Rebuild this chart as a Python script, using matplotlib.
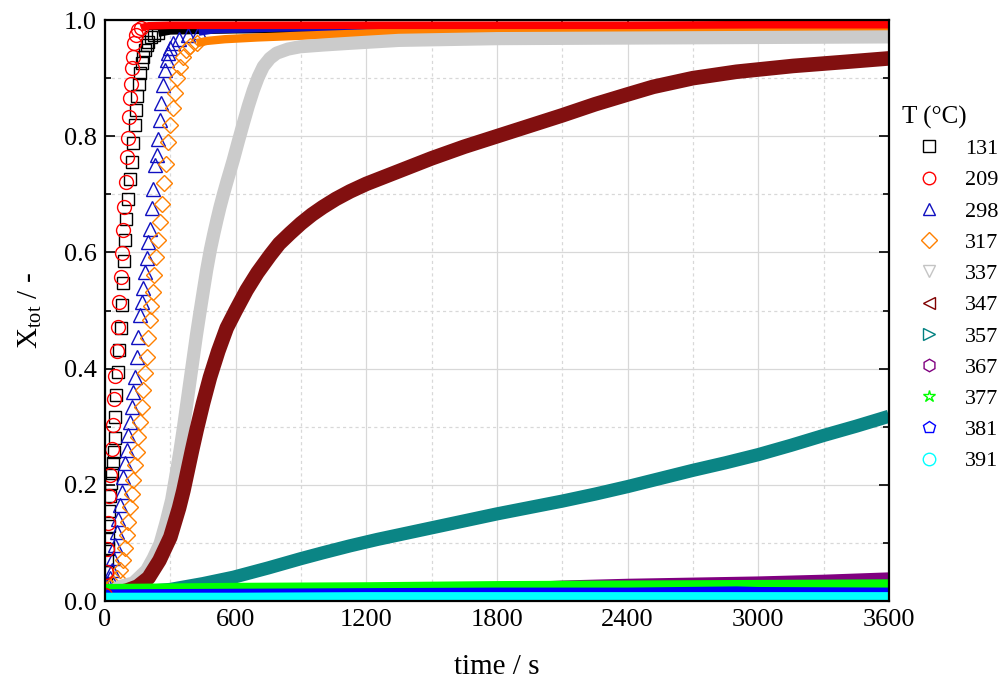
import numpy as np
import matplotlib.pyplot as plt
from matplotlib.lines import Line2D
from matplotlib.ticker import MultipleLocator, FormatStrFormatter

plt.rcParams["font.family"] = ["Liberation Serif", "DejaVu Serif"]
plt.rcParams["mathtext.fontset"] = "custom"
plt.rcParams["mathtext.rm"] = "Liberation Serif"
plt.rcParams["mathtext.it"] = "Liberation Serif:italic"

# temperatures (legend labels)
temps = ["131", "209", "298", "317", "337", "347", "357", "367", "377", "381", "391"]

# conversion curves (time in s, X_tot)
t131 = [0, 4, 7, 10, 13, 15, 18, 20, 23, 26, 32, 38, 41, 45, 48, 52, 58, 64, 72, 77,
        82, 88, 93, 98, 105, 113, 122, 130, 137, 142, 148, 155, 161, 170, 176, 184,
        191, 199, 210, 225, 245, 270, 300, 600, 1200, 1800, 2400, 3000, 3600]
x131 = [0.01, 0.03, 0.05, 0.07, 0.09, 0.107, 0.13, 0.155, 0.18, 0.203, 0.22, 0.237,
        0.257, 0.281, 0.317, 0.355, 0.395, 0.432, 0.47, 0.509, 0.547, 0.586, 0.621,
        0.657, 0.692, 0.726, 0.756, 0.788, 0.819, 0.845, 0.869, 0.89, 0.909, 0.926,
        0.937, 0.948, 0.957, 0.963, 0.97, 0.975, 0.978, 0.98, 0.982, 0.984, 0.985,
        0.985, 0.986, 0.986, 0.986]

t209 = [0, 5, 10, 15, 20, 25, 31, 36, 41, 46, 54, 60, 66, 72, 77, 81, 87, 96, 102,
        107, 112, 116, 119, 122, 129, 134, 140, 150, 165, 180, 200, 300, 600, 1200,
        1800, 2400, 3000, 3600]
x209 = [0.01, 0.05, 0.09, 0.134, 0.18, 0.217, 0.262, 0.303, 0.348, 0.388, 0.431,
        0.472, 0.515, 0.558, 0.599, 0.639, 0.679, 0.722, 0.765, 0.797, 0.833, 0.866,
        0.89, 0.917, 0.937, 0.96, 0.975, 0.982, 0.986, 0.988, 0.99, 0.991, 0.991,
        0.991, 0.991, 0.991, 0.992, 0.992]

t298 = [0, 8, 15, 23, 31, 38, 46, 54, 61, 69, 77, 84, 92, 100, 107, 115, 122, 130,
        138, 146, 153, 161, 168, 176, 184, 191, 199, 207, 214, 222, 230, 237, 245,
        251, 257, 265, 275, 283, 291, 298, 314, 340, 380, 430, 500, 800, 1200, 1800,
        2400, 3000, 3600]
x298 = [0.02, 0.022, 0.028, 0.04, 0.053, 0.074, 0.096, 0.119, 0.142, 0.165, 0.188,
        0.214, 0.237, 0.26, 0.286, 0.309, 0.334, 0.36, 0.386, 0.42, 0.455, 0.492,
        0.515, 0.538, 0.567, 0.59, 0.618, 0.641, 0.676, 0.71, 0.75, 0.768, 0.796,
        0.828, 0.858, 0.888, 0.914, 0.931, 0.943, 0.952, 0.96, 0.968, 0.975, 0.98,
        0.984, 0.987, 0.988, 0.988, 0.988, 0.988, 0.988]

t317 = [0, 23, 38, 54, 69, 84, 92, 100, 107, 115, 122, 130, 138, 145, 153, 161, 168,
        176, 184, 191, 199, 206, 212, 219, 227, 235, 243, 252, 260, 269, 278, 288,
        299, 310, 321, 332, 344, 357, 372, 390, 421, 467, 550, 700, 900, 1200, 1500,
        2000, 2500, 3000, 3600]
x317 = [0.02, 0.025, 0.03, 0.039, 0.053, 0.071, 0.091, 0.114, 0.136, 0.162, 0.185,
        0.208, 0.234, 0.257, 0.283, 0.309, 0.334, 0.363, 0.392, 0.42, 0.452, 0.484,
        0.507, 0.532, 0.561, 0.593, 0.621, 0.653, 0.684, 0.719, 0.753, 0.79, 0.82,
        0.848, 0.874, 0.9, 0.92, 0.937, 0.948, 0.955, 0.96, 0.964, 0.967, 0.97,
        0.973, 0.977, 0.979, 0.981, 0.982, 0.982, 0.983]

t337 = [0, 69, 130, 191, 222, 253, 280, 306, 325, 344, 360, 375, 390, 405, 420, 436,
        452, 467, 484, 500, 514, 528, 545, 560, 575, 589, 612, 635, 658, 681, 704,
        727, 757, 788, 840, 895, 1000, 1125, 1350, 1800, 2400, 3000, 3600]
x337 = [0.01, 0.025, 0.031, 0.053, 0.074, 0.099, 0.135, 0.174, 0.215, 0.258, 0.298,
        0.338, 0.378, 0.418, 0.458, 0.497, 0.535, 0.57, 0.605, 0.633, 0.656, 0.678,
        0.702, 0.722, 0.741, 0.759, 0.791, 0.822, 0.852, 0.879, 0.902, 0.92, 0.934,
        0.943, 0.95, 0.954, 0.957, 0.96, 0.965, 0.968, 0.969, 0.97, 0.971]

t347 = [0, 60, 100, 150, 200, 250, 300, 320, 340, 360, 380, 400, 421, 450, 482, 520,
        559, 600, 650, 700, 758, 800, 850, 900, 950, 1000, 1060, 1125, 1200, 1350,
        1500, 1650, 1800, 1950, 2100, 2250, 2400, 2517, 2700, 2900, 3160, 3400, 3600]
x347 = [0.01, 0.015, 0.018, 0.025, 0.04, 0.07, 0.11, 0.135, 0.16, 0.19, 0.225, 0.26,
        0.295, 0.34, 0.385, 0.43, 0.47, 0.5, 0.535, 0.565, 0.595, 0.615, 0.633, 0.65,
        0.665, 0.678, 0.692, 0.705, 0.718, 0.74, 0.762, 0.782, 0.8, 0.818, 0.836,
        0.855, 0.872, 0.885, 0.9, 0.911, 0.921, 0.928, 0.934]

t357 = [0, 150, 300, 450, 590, 750, 900, 1000, 1125, 1250, 1350, 1500, 1650, 1800,
        1950, 2100, 2250, 2400, 2550, 2700, 2850, 3000, 3150, 3300, 3450, 3600]
x357 = [0.012, 0.015, 0.02, 0.03, 0.041, 0.057, 0.073, 0.083, 0.095, 0.106, 0.114,
        0.126, 0.138, 0.15, 0.161, 0.172, 0.184, 0.197, 0.211, 0.225, 0.238, 0.252,
        0.268, 0.285, 0.301, 0.318]

t367 = [0, 900, 1500, 1800, 2100, 2400, 2700, 3000, 3300, 3600]
x367 = [0.012, 0.015, 0.019, 0.022, 0.027, 0.03, 0.032, 0.034, 0.037, 0.041]

t377 = [0, 600, 1200, 1800, 2400, 3000, 3600]
x377 = [0.021, 0.023, 0.024, 0.026, 0.027, 0.028, 0.029]

t381 = [0, 600, 1200, 1800, 2400, 2900, 3000, 3600]
x381 = [0.013, 0.014, 0.015, 0.016, 0.016, 0.018, 0.017, 0.016]

t391 = [0, 600, 1200, 1800, 2400, 3000, 3600]
x391 = [0.006, 0.006, 0.007, 0.007, 0.007, 0.007, 0.007]

times = [t131, t209, t298, t317, t337, t347, t357, t367, t377, t381, t391]
values = [x131, x209, x298, x317, x337, x347, x357, x367, x377, x381, x391]

markers = ["s", "o", "^", "D", "v", "<", ">", "h", "*", "p", "o"]
colors = ["#000000", "#ff0000", "#1010c0", "#ff8000", "#c4c4c4", "#800000",
          "#008080", "#800080", "#00ff00", "#0000ff", "#00ffff"]
band_colors = ["#000000", "#ff0000", "#1010c0", "#ff8000", "#cbcbcb", "#821010",
               "#0b8585", "#800080", "#00ff00", "#0000ff", "#00ffff"]
sizes = [8.5, 10, 10.5, 8, 10.5, 10, 10, 9, 10, 9, 9]
band_w = [6, 5.5, 6, 6, 9.5, 10.5, 9.5, 7, 7, 6, 7]
zorders = [2.0, 2.9, 2.1, 2.2, 2.3, 2.4, 2.5, 2.6, 2.7, 2.8, 3.0]
# time where the dense markers merge into a continuous band
band_start = [245, 165, 430, 421, 0, 0, 0, 0, 0, 0, 0]

fig = plt.figure(figsize=(10.03, 6.91), dpi=100)
ax = fig.add_axes([0.1047, 0.1302, 0.7816, 0.8408])

for t, x, mk, c, bc, ms, bw, z, b in zip(times, values, markers, colors, band_colors,
                                         sizes, band_w, zorders, band_start):
    t = np.asarray(t, dtype=float)
    x = np.asarray(x, dtype=float)
    band = t >= b
    ax.plot(t[band], x[band], color=bc, lw=bw, solid_capstyle="butt",
            solid_joinstyle="round", zorder=z)
    if b > 0:
        pts = t <= b
        ax.plot(t[pts], x[pts], ls="none", marker=mk, ms=ms, mfc="none", mec=c,
                mew=1.0, zorder=z)

ax.set_xlim(0, 3600)
ax.set_ylim(0, 1.0)
ax.xaxis.set_major_locator(MultipleLocator(600))
ax.xaxis.set_minor_locator(MultipleLocator(300))
ax.yaxis.set_major_locator(MultipleLocator(0.2))
ax.yaxis.set_minor_locator(MultipleLocator(0.1))
ax.yaxis.set_major_formatter(FormatStrFormatter("%.1f"))

ax.grid(which="major", color="#d8d8d8", lw=0.9, ls="-", zorder=0)
ax.grid(which="minor", color="#d8d8d8", lw=0.9, ls=(0, (2.5, 2.5)), zorder=0)
ax.set_axisbelow(True)

ax.tick_params(which="both", direction="in", top=True, right=True, width=1.2)
ax.tick_params(which="major", length=7, labelsize=19, pad=6)
ax.tick_params(which="minor", length=4)
for s in ax.spines.values():
    s.set_linewidth(1.6)
    s.set_zorder(5)

ax.set_xlabel("time / s", fontsize=21, labelpad=16)
ax.set_ylabel(r"X$_{\mathrm{tot}}$ / -", fontsize=21, labelpad=14)

fig.text(0.899, 0.8307, "T (°C)", fontsize=18, va="center", ha="left")
handles = [Line2D([], [], ls="none", marker=mk, ms=min(ms, 9), mfc="none", mec=c,
                  mew=1.0)
           for mk, c, ms in zip(markers, colors, sizes)]
fig.legend(handles, temps, loc="upper left", bbox_to_anchor=(0.913, 0.7993),
           frameon=False, fontsize=16, handlelength=1.2, handletextpad=1.02,
           labelspacing=0.48, borderpad=0.0, borderaxespad=0.0)

fig.savefig("out.png", dpi=100)
